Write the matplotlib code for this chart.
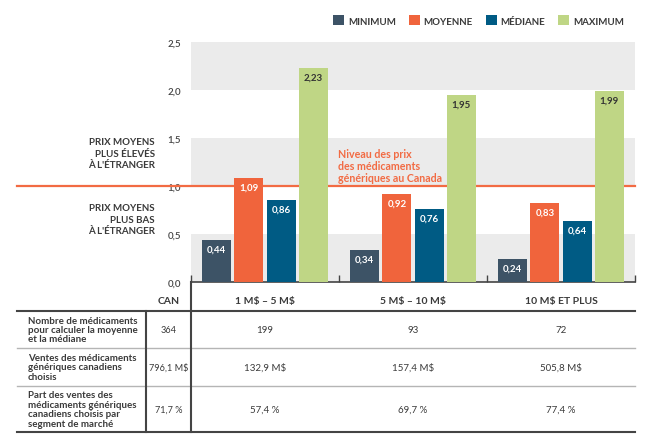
import matplotlib
matplotlib.use("Agg")
import matplotlib.pyplot as plt
from matplotlib.patches import Patch
import numpy as np

plt.rcParams['font.family'] = ['Lato', 'DejaVu Sans']
plt.rcParams['text.parse_math'] = False

# ---- data ----
segments = ["1 M$ – 5 M$", "5 M$ – 10 M$", "10 M$ ET PLUS"]
series_names = ["MINIMUM", "MOYENNE", "MÉDIANE", "MAXIMUM"]
minimum = [0.44, 0.34, 0.24]
moyenne = [1.09, 0.92, 0.83]
mediane = [0.86, 0.76, 0.64]
maximum = [2.23, 1.95, 1.99]
y_ticks = [0.0, 0.5, 1.0, 1.5, 2.0, 2.5]
y_tick_labels = ["0,0", "0,5", "1,0", "1,5", "2,0", "2,5"]

table_row_labels = [
    "Nombre de médicaments\npour calculer la moyenne\net la médiane",
    "Ventes des médicaments\ngénériques canadiens\nchoisis",
    "Part des ventes des\nmédicaments génériques\ncanadiens choisis par\nsegment de marché",
]
table_can = ["364", "796,1 M$", "71,7 %"]
table_seg = [
    ["199", "93", "72"],
    ["132,9 M$", "157,4 M$", "505,8 M$"],
    ["57,4 %", "69,7 %", "77,4 %"],
]

colors = ["#3d5366", "#f0643c", "#005b84", "#bfd685"]
label_colors = ["white", "white", "white", "#333333"]
orange = "#f26b43"
txt = "#3a3a3a"

W, H = 650, 439
fig = plt.figure(figsize=(W / 100, H / 100), dpi=100)

# overlay axes in pixel coordinates for the table
ov = fig.add_axes([0, 0, 1, 1], zorder=0)
ov.set_xlim(0, W)
ov.set_ylim(H, 0)
ov.axis("off")

# main chart axes
left, right, top, bottom = 191, 635, 43.3, 283.3
ax = fig.add_axes([left / W, 1 - bottom / H, (right - left) / W, (bottom - top) / H], zorder=2)
ax.patch.set_alpha(0)

# bands
for lo in [0.0, 1.0, 2.0]:
    ax.axhspan(lo, lo + 0.5, color="#ebebeb", lw=0, zorder=0)

x = np.arange(len(segments))
step = 0.218
width = 0.196
all_series = [minimum, moyenne, mediane, maximum]
for i, (vals, c, lc) in enumerate(zip(all_series, colors, label_colors)):
    xs = x + (i - 1.5) * step
    ax.bar(xs, vals, width=width, color=c, zorder=3, label=series_names[i])
    for xi, v in zip(xs, vals):
        ax.annotate(f"{v:.2f}".replace(".", ","), (xi, v), xytext=(0, -6.5),
                    textcoords="offset points", ha="center", va="center",
                    color=lc, fontsize=7, fontweight="bold", zorder=4)

ax.set_xlim(-0.5, len(segments) - 0.5)
ax.set_ylim(0, 2.5)
ax.set_yticks(y_ticks)
ax.set_yticklabels(y_tick_labels, fontsize=7, color="#444444", fontweight="semibold")
ax.tick_params(axis="y", length=0, pad=7)
ax.set_xticks(np.arange(len(segments) + 1) - 0.5)
ax.set_xticklabels([])
ax.tick_params(axis="x", direction="in", length=5, width=1, color="#444444")
for s in ["left", "right", "top"]:
    ax.spines[s].set_visible(False)
ax.spines["bottom"].set_color("#444444")
ax.spines["bottom"].set_linewidth(1.2)

# reference line at 1.0 extended to the left
x0 = (16.6 - left) / (right - left)
ax.plot([x0, 1], [1.0, 1.0], transform=ax.get_yaxis_transform(), color=orange,
        lw=1.6, clip_on=False, zorder=2)
ax.text(0.49, 1.215, "Niveau des prix\ndes médicaments\ngénériques au Canada",
        ha="left", va="center", color=orange, fontsize=7.7, fontweight="bold",
        linespacing=1.08, zorder=4)

xl = (155 - left) / (right - left)
ax.text(xl, 1.345, "PRIX MOYENS\nPLUS ÉLEVÉS\nÀ L'ÉTRANGER", transform=ax.get_yaxis_transform(),
        ha="right", va="center", fontsize=7, color=txt, fontweight="bold", linespacing=1.35)
ax.text(xl, 0.655, "PRIX MOYENS\nPLUS BAS\nÀ L'ÉTRANGER", transform=ax.get_yaxis_transform(),
        ha="right", va="center", fontsize=7, color=txt, fontweight="bold", linespacing=1.35)

# legend
handles = [Patch(facecolor=c, edgecolor="none") for c in colors]
fig.legend(handles, series_names, ncol=4, loc="center right",
           bbox_to_anchor=(624 / W, 1 - 21.5 / H), frameon=False,
           borderpad=0, borderaxespad=0,
           handlelength=1.15, handleheight=1.15, handletextpad=0.4,
           columnspacing=1.3, prop={"size": 7, "weight": "bold"},
           labelcolor=txt)

# ---- table ----
tl, tr = 16.6, 635
col_sep = 146
h_lines = [312, 349.3, 386.7, 433.3]
ov.plot([tl, tr], [h_lines[0]] * 2, color="#444444", lw=1.5)
ov.plot([tl, tr], [h_lines[1]] * 2, color="#b5b5b5", lw=1)
ov.plot([tl, tr], [h_lines[2]] * 2, color="#b5b5b5", lw=1)
ov.plot([tl, tr], [h_lines[3]] * 2, color="#444444", lw=1.5)
ov.plot([col_sep, col_sep], [h_lines[0], h_lines[3]], color="#444444", lw=1.5)
ov.plot([left, left], [bottom, h_lines[3]], color="#444444", lw=1.5)

seg_w = (right - left) / len(segments)
seg_centers = [left + seg_w * (i + 0.5) for i in range(len(segments))]
header_y = 301.5
ov.text((col_sep + left) / 2, header_y, "CAN", ha="center", va="center",
        fontsize=7.5, color=txt, fontweight="bold")
for cx, s in zip(seg_centers, segments):
    ov.text(cx, header_y, s, ha="center", va="center", fontsize=7.5, color=txt,
            fontweight="bold")

row_centers = [(h_lines[i] + h_lines[i + 1]) / 2 for i in range(3)]
for r, yc in enumerate(row_centers):
    ov.text(28, yc, table_row_labels[r], ha="left", va="center", fontsize=7,
            color=txt, fontweight="bold", linespacing=1.05)
    ov.text((col_sep + left) / 2, yc, table_can[r], ha="center", va="center",
            fontsize=6.6, color=txt)
    for cx, v in zip(seg_centers, table_seg[r]):
        ov.text(cx, yc, v, ha="center", va="center", fontsize=7, color=txt)

fig.savefig("out.png", dpi=100, facecolor="white")
